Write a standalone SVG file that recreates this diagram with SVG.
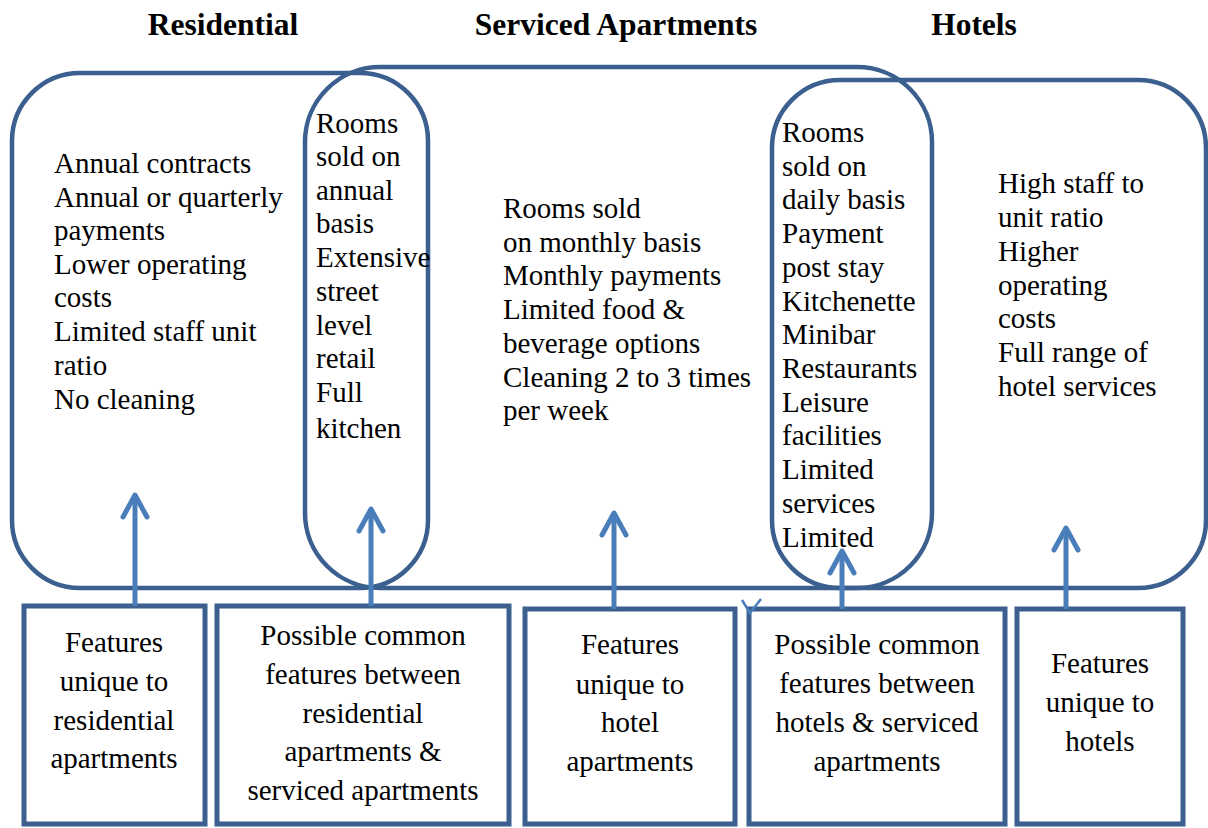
<svg xmlns="http://www.w3.org/2000/svg" width="1208" height="828" viewBox="0 0 1208 828">
<style>
.shape{fill:none;stroke:#3B5F8E;stroke-width:4.5}
.box{fill:none;stroke:#3B5F8E;stroke-width:5}
.t{font-family:"Liberation Serif","Times New Roman",serif;font-size:29px;fill:#000}
.c{text-anchor:middle}
.title{font-family:"Liberation Serif","Times New Roman",serif;font-size:31.5px;font-weight:bold;fill:#000;text-anchor:middle}
.arr{stroke:#4A7EBB;stroke-width:5;fill:none}
</style>
<defs>
<marker id="ah" markerUnits="userSpaceOnUse" viewBox="-30 -20 40 40" markerWidth="40" markerHeight="40" refX="0" refY="0" orient="auto">
<path d="M-22,-12 L0,0 L-22,12" fill="none" stroke="#4A7EBB" stroke-width="5" stroke-linecap="round" stroke-linejoin="round"/>
</marker>
</defs>
<rect width="1208" height="828" fill="#fff"/>
<g id="titles">
<text class="title" x="223" y="35">Residential</text>
<text class="title" x="616" y="35">Serviced Apartments</text>
<text class="title" x="974" y="35">Hotels</text>
</g>
<g id="residential">
<rect class="shape" x="12" y="73" width="416" height="515" rx="68" ry="68"/>
<text class="t" x="54" y="173">Annual contracts</text>
<text class="t" x="54" y="207">Annual or quarterly</text>
<text class="t" x="54" y="240">payments</text>
<text class="t" x="54" y="274">Lower operating</text>
<text class="t" x="54" y="307">costs</text>
<text class="t" x="54" y="341">Limited staff unit</text>
<text class="t" x="54" y="375">ratio</text>
<text class="t" x="54" y="409">No cleaning</text>
</g>
<g id="serviced">
<rect class="shape" x="305" y="67" width="627" height="521" rx="75" ry="75"/>
<text class="t" x="503" y="218">Rooms sold</text>
<text class="t" x="503" y="252">on monthly basis</text>
<text class="t" x="503" y="285">Monthly payments</text>
<text class="t" x="503" y="319">Limited food &amp;</text>
<text class="t" x="503" y="353">beverage options</text>
<text class="t" x="503" y="387">Cleaning 2 to 3 times</text>
<text class="t" x="503" y="420">per week</text>
</g>
<g id="hotels">
<rect class="shape" x="772" y="80" width="434" height="508" rx="68" ry="68"/>
<text class="t" x="998" y="193">High staff to</text>
<text class="t" x="998" y="227">unit ratio</text>
<text class="t" x="998" y="261">Higher</text>
<text class="t" x="998" y="295">operating</text>
<text class="t" x="998" y="328">costs</text>
<text class="t" x="998" y="362">Full range of</text>
<text class="t" x="998" y="396">hotel services</text>
</g>
<g id="overlap-res-serv">
<text class="t" x="316" y="133">Rooms</text>
<text class="t" x="316" y="166">sold on</text>
<text class="t" x="316" y="200">annual</text>
<text class="t" x="316" y="233">basis</text>
<text class="t" x="316" y="267">Extensive</text>
<text class="t" x="316" y="301">street</text>
<text class="t" x="316" y="335">level</text>
<text class="t" x="316" y="368">retail</text>
<text class="t" x="316" y="402">Full</text>
<text class="t" x="316" y="438">kitchen</text>
</g>
<g id="overlap-serv-hotel">
<text class="t" x="782" y="142">Rooms</text>
<text class="t" x="782" y="176">sold on</text>
<text class="t" x="782" y="209">daily basis</text>
<text class="t" x="782" y="243">Payment</text>
<text class="t" x="782" y="277">post stay</text>
<text class="t" x="782" y="311">Kitchenette</text>
<text class="t" x="782" y="344">Minibar</text>
<text class="t" x="782" y="378">Restaurants</text>
<text class="t" x="782" y="412">Leisure</text>
<text class="t" x="782" y="445">facilities</text>
<text class="t" x="782" y="479">Limited</text>
<text class="t" x="782" y="513">services</text>
<text class="t" x="782" y="547">Limited</text>
</g>
<g id="box1">
<rect class="box" x="24" y="606" width="181" height="218"/>
<text class="t c" x="114" y="652">Features</text>
<text class="t c" x="114" y="691">unique to</text>
<text class="t c" x="114" y="730">residential</text>
<text class="t c" x="114" y="768">apartments</text>
</g>
<g id="box2">
<rect class="box" x="217" y="606" width="292" height="218"/>
<text class="t c" x="363" y="645">Possible common</text>
<text class="t c" x="363" y="684">features between</text>
<text class="t c" x="363" y="723">residential</text>
<text class="t c" x="363" y="761">apartments &amp;</text>
<text class="t c" x="363" y="800">serviced apartments</text>
</g>
<g id="box3">
<rect class="box" x="525" y="609" width="210" height="215"/>
<text class="t c" x="630" y="654">Features</text>
<text class="t c" x="630" y="694">unique to</text>
<text class="t c" x="630" y="732">hotel</text>
<text class="t c" x="630" y="771">apartments</text>
</g>
<g id="box4">
<rect class="box" x="749" y="609" width="256" height="215"/>
<text class="t c" x="877" y="654">Possible common</text>
<text class="t c" x="877" y="693">features between</text>
<text class="t c" x="877" y="732">hotels &amp; serviced</text>
<text class="t c" x="877" y="771">apartments</text>
</g>
<g id="box5">
<rect class="box" x="1017" y="609" width="166" height="215"/>
<text class="t c" x="1100" y="673">Features</text>
<text class="t c" x="1100" y="712">unique to</text>
<text class="t c" x="1100" y="751">hotels</text>
</g>
<g id="connectors">
<line class="arr" x1="135" y1="606" x2="135" y2="495" marker-end="url(#ah)"/>
<line class="arr" x1="371" y1="606" x2="371" y2="509" marker-end="url(#ah)"/>
<line class="arr" x1="614" y1="609" x2="614" y2="513" marker-end="url(#ah)"/>
<line class="arr" x1="842" y1="609" x2="842" y2="551" marker-end="url(#ah)"/>
<line class="arr" x1="1066" y1="609" x2="1066" y2="528" marker-end="url(#ah)"/>
<path d="M742,600 L750,613 L761,599" fill="none" stroke="#4A7EBB" stroke-width="2.5"/>
</g>
</svg>
